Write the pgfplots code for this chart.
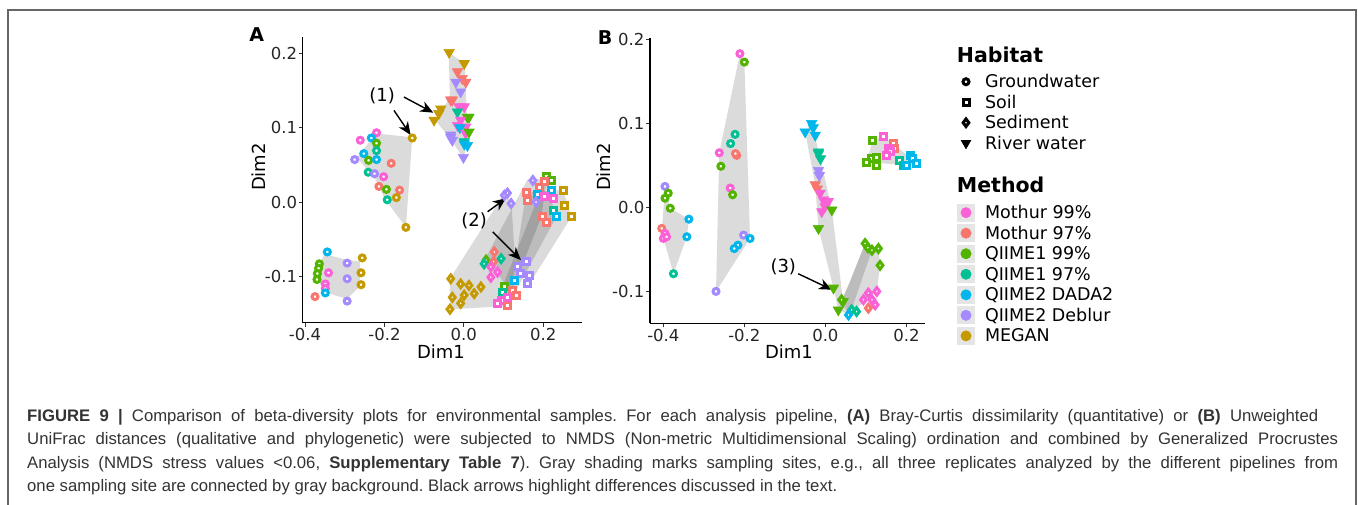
\documentclass[border=0pt]{standalone}
\usepackage{fontspec}
\setmainfont{DejaVu Sans}
\newfontfamily\capfont{Liberation Sans}
\usepackage{pgfplots}
\pgfplotsset{compat=1.18}
\usetikzlibrary{arrows.meta}

\definecolor{cM9}{HTML}{FB61D7}
\definecolor{cM7}{HTML}{F8766D}
\definecolor{cQ9}{HTML}{53B400}
\definecolor{cQ7}{HTML}{00C094}
\definecolor{cD2}{HTML}{00B6EB}
\definecolor{cDB}{HTML}{A58AFF}
\definecolor{cMG}{HTML}{C49A00}

\pgfplotsset{
  nmds/.style={scale only axis, axis lines*=left, clip=false,
    tick align=outside, major tick length=4pt,
    axis line style={line width=1.2pt},
    tick style={line width=1pt, black!80},
    ticklabel style={font=\fontsize{16.5}{18}\selectfont, text=black!85, inner sep=1.5pt},
    xtick={-0.4,-0.2,0,0.2}, xticklabels={-0.4,-0.2,0.0,0.2},
    ytick={-0.1,0,0.1,0.2}, yticklabels={-0.1,0.0,0.1,0.2}},
  pts/.style={only marks, scatter, scatter src=explicit symbolic},
  ring/.style={pts, mark size=3pt, mark options={line width=3pt, fill=white},
    scatter/classes={M9={draw=cM9}, M7={draw=cM7}, Q9={draw=cQ9}, Q7={draw=cQ7},
      D2={draw=cD2}, DB={draw=cDB}, MG={draw=cMG}}},
  gw/.style={ring, mark=*},
  soil/.style={ring, mark=square*},
  sed/.style={ring, mark=diamond*, mark size=3.8pt},
  riv/.style={pts, mark=triangle*, mark size=6pt, mark options={rotate=180, line width=0.6pt},
    scatter/classes={M9={draw=cM9,fill=cM9}, M7={draw=cM7,fill=cM7}, Q9={draw=cQ9,fill=cQ9},
      Q7={draw=cQ7,fill=cQ7}, D2={draw=cD2,fill=cD2}, DB={draw=cDB,fill=cDB}, MG={draw=cMG,fill=cMG}}},
  hull/.style={draw=none, fill=black, fill opacity=0.14, forget plot},
  legax/.style={anchor=north west, hide axis, scale only axis, width=5pt, height=5pt,
    xmin=0, xmax=1, ymin=0, ymax=1, legend cell align=left,
    legend style={at={(0,1)}, anchor=north west, draw=none, fill=none, inner sep=0pt,
      outer sep=0pt, row sep=0pt, column sep=0pt,
      font=\fontsize{17.5}{20}\selectfont, nodes={inner sep=0pt}}},
  mkey/.style={legend image code/.code={\path[draw=none,fill=none] (-9pt,-10.27pt) rectangle (19pt,10.27pt);
    \fill[black!10,draw=none] (-9pt,-9pt) rectangle (9pt,9pt); \fill[#1,draw=none] (0pt,0pt) circle (5.5pt);}},
  hkey/.style={legend image code/.code={\path[draw=none,fill=none] (-9pt,-10.25pt) rectangle (19pt,10.25pt);
    \draw[black, fill=white, line width=3pt] plot[only marks, mark=#1, mark size=3pt] coordinates {(0pt,0pt)};}},
}
\tikzset{arr/.style={-{Stealth[length=13pt,width=11pt,inset=4pt]}, line width=1.4pt}}

\begin{document}
\begin{tikzpicture}[x=1pt,y=1pt]
\useasboundingbox (0,0) rectangle (1358,505);
\draw[line width=1.2pt, black!60] (8,-3) -- (8,495) -- (1356,495) -- (1356,-3);

% ---------------- panel A: Bray-Curtis ----------------
\begin{axis}[nmds, at={(302.7pt,182.3pt)}, anchor=south west,
  width=279pt, height=286pt, xmin=-0.406, xmax=0.297, ymin=-0.162, ymax=0.222]
\addplot[hull] coordinates {(-0.220,0.092) (-0.130,0.087) (-0.146,-0.034) (-0.200,0.005) (-0.222,0.030) (-0.270,0.060)} --cycle;
\addplot[hull] coordinates {(-0.350,-0.070) (-0.300,-0.077) (-0.262,-0.080) (-0.262,-0.113) (-0.294,-0.130) (-0.345,-0.122) (-0.368,-0.105) (-0.366,-0.083)} --cycle;
\addplot[hull] coordinates {(-0.038,0.201) (0.002,0.186) (0.010,0.090) (0.000,0.058) (-0.034,0.085) (-0.072,0.110) (-0.035,0.140)} --cycle;
\addplot[hull] coordinates {(-0.035,-0.144) (-0.035,-0.103) (0.100,0.010) (0.120,0.000) (0.130,-0.090) (0.100,-0.140)} --cycle;
\addplot[hull] coordinates {(0.050,-0.080) (0.160,0.030) (0.210,0.032) (0.195,-0.020) (0.120,-0.122) (0.090,-0.100)} --cycle;
\addplot[hull] coordinates {(0.130,-0.080) (0.157,0.013) (0.250,0.016) (0.271,-0.020) (0.165,-0.110)} --cycle;
\addplot[hull] coordinates {(0.085,-0.136) (0.111,-0.139) (0.233,-0.020) (0.205,0.030) (0.100,-0.110)} --cycle;

\addplot[gw] table[meta=c] {
x y c
-0.261 0.083 M9
-0.220 0.093 M9
-0.233 0.086 D2
-0.220 0.079 Q9
-0.220 0.069 Q7
-0.252 0.065 D2
-0.275 0.057 DB
-0.240 0.056 Q9
-0.220 0.057 D2
-0.183 0.052 M7
-0.241 0.040 Q7
-0.225 0.038 DB
-0.202 0.034 M9
-0.214 0.021 M7
-0.195 0.017 Q9
-0.162 0.016 M7
-0.170 0.006 MG
-0.193 0.003 Q7
-0.130 0.086 MG
-0.146 -0.034 MG
-0.344 -0.067 D2
-0.364 -0.083 Q9
-0.366 -0.089 Q9
-0.369 -0.096 Q9
-0.370 -0.104 Q9
-0.341 -0.095 M9
-0.349 -0.110 M9
-0.349 -0.116 M9
-0.349 -0.122 D2
-0.375 -0.127 M7
-0.294 -0.082 DB
-0.294 -0.103 DB
-0.294 -0.133 DB
-0.256 -0.075 MG
-0.259 -0.095 MG
-0.259 -0.111 MG
};
\addplot[riv] table[meta=c] {
x y c
-0.037 0.201 MG
0.001 0.186 MG
-0.016 0.175 M7
-0.004 0.166 M7
0.005 0.161 M7
-0.020 0.161 DB
-0.008 0.148 DB
-0.033 0.137 M7
-0.029 0.137 M7
-0.012 0.128 M9
0.001 0.128 M9
-0.016 0.121 Q7
0.009 0.114 Q9
0.013 0.114 Q9
-0.008 0.110 M9
-0.016 0.103 M9
0.005 0.101 M9
-0.010 0.100 D2
0.005 0.092 M9
0.013 0.094 Q9
-0.033 0.090 DB
-0.033 0.087 DB
-0.029 0.083 DB
0.001 0.081 Q7
0.001 0.078 D2
0.009 0.076 D2
-0.001 0.060 DB
-0.075 0.110 MG
-0.063 0.119 MG
-0.058 0.125 MG
};
\addplot[soil] table[meta=c] {
x y c
0.208 0.034 Q9
0.220 0.029 Q9
0.203 0.027 M7
0.190 0.020 M7
0.157 0.013 M7
0.161 0.002 M7
0.220 0.016 D2
0.185 0.010 D2
0.225 0.005 M9
0.203 0.007 M9
0.250 0.016 MG
0.254 -0.004 MG
0.271 -0.020 MG
0.199 -0.020 M7
0.225 -0.011 Q7
0.233 -0.020 D2
0.208 -0.027 M7
0.136 -0.087 DB
0.157 -0.080 DB
0.144 -0.096 DB
0.165 -0.098 DB
0.161 -0.110 DB
0.127 -0.105 D2
0.102 -0.114 Q9
0.098 -0.121 Q7
0.123 -0.119 M7
0.094 -0.132 M9
0.085 -0.136 M9
0.111 -0.139 M7
0.111 -0.128 M9
0.132 -0.125 M7
};
\addplot[sed] table[meta=c] {
x y c
0.174 0.029 DB
0.182 0.000 DB
0.102 0.009 DB
0.110 0.012 DB
0.119 -0.002 DB
-0.033 -0.103 MG
-0.008 -0.110 MG
0.013 -0.112 MG
-0.029 -0.128 MG
0.001 -0.125 MG
0.026 -0.123 MG
0.043 -0.114 MG
-0.008 -0.136 MG
-0.035 -0.144 MG
0.056 -0.078 Q9
0.077 -0.067 M7
0.094 -0.076 Q7
0.075 -0.080 M7
0.051 -0.083 Q7
0.068 -0.087 M9
0.085 -0.094 M9
0.068 -0.101 M9
};
\draw[arr] (axis cs:-0.151,0.141) -- (axis cs:-0.077,0.120);
\draw[arr] (axis cs:-0.176,0.123) -- (axis cs:-0.134,0.090);
\draw[arr] (axis cs:0.060,-0.013) -- (axis cs:0.106,0.005);
\draw[arr] (axis cs:0.073,-0.040) -- (axis cs:0.144,-0.078);
\node[font=\fontsize{18}{20}\selectfont] at (axis cs:-0.206,0.143) {(1)};
\node[font=\fontsize{18}{20}\selectfont] at (axis cs:0.026,-0.025) {(2)};
\end{axis}

% ---------------- panel B: unweighted UniFrac ----------------
\begin{axis}[nmds, at={(650pt,181.7pt)}, anchor=south west,
  width=275pt, height=285.3pt, xmin=-0.433, xmax=0.246, ymin=-0.138, ymax=0.2017]
\addplot[hull] coordinates {(-0.396,0.025) (-0.383,-0.001) (-0.337,-0.014) (-0.342,-0.035) (-0.375,-0.079) (-0.404,-0.030) (-0.398,0.010)} --cycle;
\addplot[hull] coordinates {(-0.211,0.183) (-0.200,0.173) (-0.186,-0.037) (-0.270,-0.100) (-0.262,0.065)} --cycle;
\addplot[hull] coordinates {(-0.034,0.100) (-0.012,0.058) (0.016,-0.003) (0.044,-0.112) (0.032,-0.122) (0.020,-0.096) (-0.017,-0.025) (-0.025,0.027) (-0.050,0.090)} --cycle;
\addplot[hull] coordinates {(0.098,-0.043) (0.131,-0.049) (0.135,-0.069) (0.127,-0.100) (0.057,-0.128) (0.040,-0.110) (0.060,-0.090)} --cycle;
\addplot[hull] coordinates {(0.032,-0.122) (0.098,-0.043) (0.115,-0.051) (0.060,-0.128)} --cycle;
\addplot[hull] coordinates {(0.102,0.054) (0.117,0.080) (0.143,0.084) (0.168,0.076) (0.226,0.052) (0.201,0.050)} --cycle;

\addplot[gw] table[meta=c] {
x y c
-0.396 0.025 DB
-0.388 0.017 Q9
-0.396 0.011 Q9
-0.383 -0.001 Q9
-0.404 -0.025 M7
-0.396 -0.031 M9
-0.400 -0.037 M9
-0.392 -0.035 M9
-0.337 -0.014 D2
-0.342 -0.035 D2
-0.375 -0.079 Q7
-0.211 0.183 M9
-0.200 0.173 Q9
-0.223 0.087 Q7
-0.234 0.076 Q7
-0.262 0.065 M9
-0.219 0.062 M7
-0.222 0.064 M7
-0.258 0.049 Q9
-0.235 0.023 M9
-0.229 0.015 Q9
-0.202 -0.033 DB
-0.186 -0.037 D2
-0.216 -0.045 D2
-0.225 -0.049 D2
-0.270 -0.100 DB
};
\addplot[riv] table[meta=c] {
x y c
-0.034 0.100 D2
-0.030 0.095 D2
-0.050 0.090 D2
-0.025 0.086 D2
-0.017 0.066 Q7
-0.017 0.064 Q7
-0.012 0.058 Q7
-0.017 0.044 DB
-0.015 0.038 DB
-0.025 0.027 M7
-0.020 0.022 M7
-0.013 0.017 M9
-0.005 0.009 M9
0.007 0.007 M9
-0.001 0.001 M9
-0.009 -0.005 M9
0.016 -0.003 Q9
-0.017 -0.025 Q9
0.020 -0.096 Q9
0.044 -0.112 Q9
0.032 -0.122 Q9
};
\addplot[soil] table[meta=c] {
x y c
0.117 0.080 Q9
0.143 0.084 M9
0.168 0.076 M7
0.170 0.070 M7
0.156 0.070 M9
0.160 0.066 M9
0.152 0.062 M9
0.114 0.058 Q9
0.125 0.060 Q9
0.102 0.054 Q9
0.127 0.050 Q9
0.183 0.056 Q7
0.193 0.050 Q7
0.209 0.062 D2
0.215 0.058 D2
0.226 0.052 D2
0.201 0.050 D2
};
\addplot[sed] table[meta=c] {
x y c
0.098 -0.043 Q9
0.105 -0.048 Q9
0.115 -0.051 Q9
0.131 -0.049 Q9
0.135 -0.069 Q9
0.106 -0.102 M9
0.127 -0.100 M9
0.115 -0.110 M9
0.094 -0.110 M9
0.123 -0.116 M9
0.106 -0.120 M7
0.040 -0.110 Q9
0.065 -0.122 Q7
0.057 -0.128 D2
0.077 -0.124 Q7
};
\draw[arr] (axis cs:-0.067,-0.079) -- (axis cs:0.016,-0.098);
\node[font=\fontsize{18}{20}\selectfont] at (axis cs:-0.104,-0.071) {(3)};
\end{axis}

% axis titles and panel letters
\node[font=\fontsize{18}{20}\selectfont] at (441,153) {Dim1};
\node[font=\fontsize{18}{20}\selectfont] at (789,153) {Dim1};
\node[font=\fontsize{18}{20}\selectfont, rotate=90] at (258.3,338) {Dim2};
\node[font=\fontsize{18}{20}\selectfont, rotate=90] at (603.3,338) {Dim2};
\node[font=\bfseries\fontsize{19}{20}\selectfont] at (256.7,470) {A};
\node[font=\bfseries\fontsize{19}{20}\selectfont] at (605,467) {B};

% legends
\node[font=\bfseries\fontsize{20.5}{22}\selectfont, anchor=west, inner sep=0pt] at (956.7,450) {Habitat};
\node[font=\bfseries\fontsize{20.5}{22}\selectfont, anchor=west, inner sep=0pt] at (956.7,320) {Method};
\begin{axis}[legax, at={(957pt,433.5pt)}]
\addlegendimage{hkey=*}\addlegendentry{Groundwater}
\addlegendimage{hkey=square*}\addlegendentry{Soil}
\addlegendimage{legend image code/.code={\path[draw=none,fill=none] (-9pt,-10.25pt) rectangle (19pt,10.25pt);
  \draw[black, fill=white, line width=3pt] plot[only marks, mark=diamond*, mark size=3.8pt] coordinates {(0pt,0pt)};}}
\addlegendentry{Sediment}
\addlegendimage{legend image code/.code={\path[draw=none,fill=none] (-9pt,-10.25pt) rectangle (19pt,10.25pt);
  \draw[black, fill=black, line width=0.6pt] plot[only marks, mark=triangle*, mark size=5.5pt, mark options={rotate=180}] coordinates {(0pt,0pt)};}}
\addlegendentry{River water}
\end{axis}
\begin{axis}[legax, at={(957pt,302.6pt)}]
\addlegendimage{mkey=cM9}\addlegendentry{Mothur 99\%}
\addlegendimage{mkey=cM7}\addlegendentry{Mothur 97\%}
\addlegendimage{mkey=cQ9}\addlegendentry{QIIME1 99\%}
\addlegendimage{mkey=cQ7}\addlegendentry{QIIME1 97\%}
\addlegendimage{mkey=cD2}\addlegendentry{QIIME2 DADA2}
\addlegendimage{mkey=cDB}\addlegendentry{QIIME2 Deblur}
\addlegendimage{mkey=cMG}\addlegendentry{MEGAN}
\end{axis}

% caption (justified lines)
\begin{scope}[every node/.style={anchor=base west, inner sep=0pt, text=black!80,
    font=\capfont\fontsize{16.7}{20}\selectfont\frenchspacing}]
\node at (27,83.3) {\makebox[1291pt][s]{\textbf{FIGURE 9 |} Comparison of beta-diversity plots for environmental samples. For each analysis pipeline, \textbf{(A)} Bray-Curtis dissimilarity (quantitative) or \textbf{(B)} Unweighted}};
\node at (27,60) {\makebox[1311pt][s]{UniFrac distances (qualitative and phylogenetic) were subjected to NMDS (Non-metric Multidimensional Scaling) ordination and combined by Generalized Procrustes}};
\node at (27,36.7) {\makebox[1311pt][s]{Analysis (NMDS stress values <0.06, \textbf{Supplementary Table 7}). Gray shading marks sampling sites, e.g., all three replicates analyzed by the different pipelines from}};
\node at (27,13.3) {one sampling site are connected by gray background. Black arrows highlight differences discussed in the text.};
\end{scope}
\end{tikzpicture}
\end{document}
